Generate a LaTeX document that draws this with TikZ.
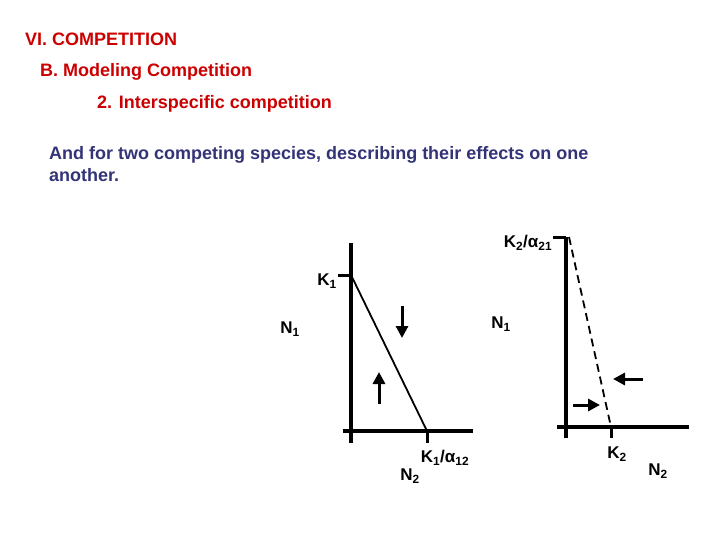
\documentclass[tikz,border=0pt]{standalone}
\usepackage{fontspec}
\setmainfont{Liberation Sans}
\usetikzlibrary{arrows.meta}
\definecolor{titlered}{RGB}{204,0,0}
\definecolor{bodyblue}{RGB}{51,51,119}
\begin{document}
\begin{tikzpicture}[x=1pt,y=-1pt,
  title/.style={anchor=west,inner sep=0pt,text=titlered,font=\bfseries\fontsize{18}{20}\selectfont},
  body/.style={anchor=north west,inner sep=0pt,text=bodyblue,align=left,font=\bfseries\fontsize{18}{22}\selectfont},
  lab/.style={inner sep=0pt,font=\bfseries\fontsize{17}{19}\selectfont},
  axis/.style={line width=4pt},
  tick/.style={line width=3pt},
  iso/.style={line width=1.8pt},
  flow/.style={line width=3pt,-{Triangle[length=12pt,width=12pt]}}]
\useasboundingbox (0,0) rectangle (720,540);
% texts
\node[title] (t1) at (25,39) {VI. COMPETITION};
\node[title] (t2) at (40,72) {B. Modeling Competition};
\node[title] (t3) at (97,104) {2. Interspecific competition};
\node[body] (b1) at (49,146) {And for two competing species, describing their effects on one\\another.};
% left graph
\coordinate (Ltop) at (351,243);
\coordinate (Lbot) at (351,443);
\coordinate (Lleft) at (343,431);
\coordinate (Lright) at (473,431);
\coordinate (K1t) at (338,275);
\coordinate (K1) at (351,275);
\coordinate (Kx) at (427,431);
\coordinate (Kxb) at (427,443);
\draw[axis] (Ltop) -- (Lbot);
\draw[axis] (Lleft) -- (Lright);
\draw[tick] (K1t) -- (K1);
\draw[tick] (Kx) -- (Kxb);
\draw[iso] (K1) -- (Kx);
\coordinate (da) at (402,306);
\coordinate (db) at (402,338);
\coordinate (ua) at (379,404);
\coordinate (ub) at (379,372);
\draw[flow] (da) -- (db);
\draw[flow] (ua) -- (ub);
\node[lab] (lk1) at (327,281) {K\textsubscript{1}};
\node[lab] (ln1) at (290,329) {N\textsubscript{1}};
\node[lab] (lka) at (445,458) {K\textsubscript{1}/α\textsubscript{12}};
\node[lab] (ln2) at (410,476) {N\textsubscript{2}};
% right graph
\coordinate (Rtop) at (566,237);
\coordinate (Rbot) at (566,438);
\coordinate (Rleft) at (557,427);
\coordinate (Rright) at (689,427);
\coordinate (K2t) at (553,237);
\coordinate (K2a) at (569,237);
\coordinate (K2) at (611,427);
\coordinate (K2b) at (611,438);
\draw[axis] (Rtop) -- (Rbot);
\draw[axis] (Rleft) -- (Rright);
\draw[tick] (K2t) -- (Rtop);
\draw[tick] (K2) -- (K2b);
\draw[iso,dash pattern=on 8pt off 5pt] (K2a) -- (K2);
\coordinate (la) at (643,379);
\coordinate (lb) at (613,379);
\coordinate (ra) at (573,405);
\coordinate (rb) at (600,405);
\draw[flow] (la) -- (lb);
\draw[flow] (ra) -- (rb);
\node[lab] (rka) at (528,243) {K\textsubscript{2}/α\textsubscript{21}};
\node[lab] (rn1) at (501,324) {N\textsubscript{1}};
\node[lab] (rk2) at (617,454) {K\textsubscript{2}};
\node[lab] (rn2) at (658,471) {N\textsubscript{2}};
\end{tikzpicture}
\end{document}
